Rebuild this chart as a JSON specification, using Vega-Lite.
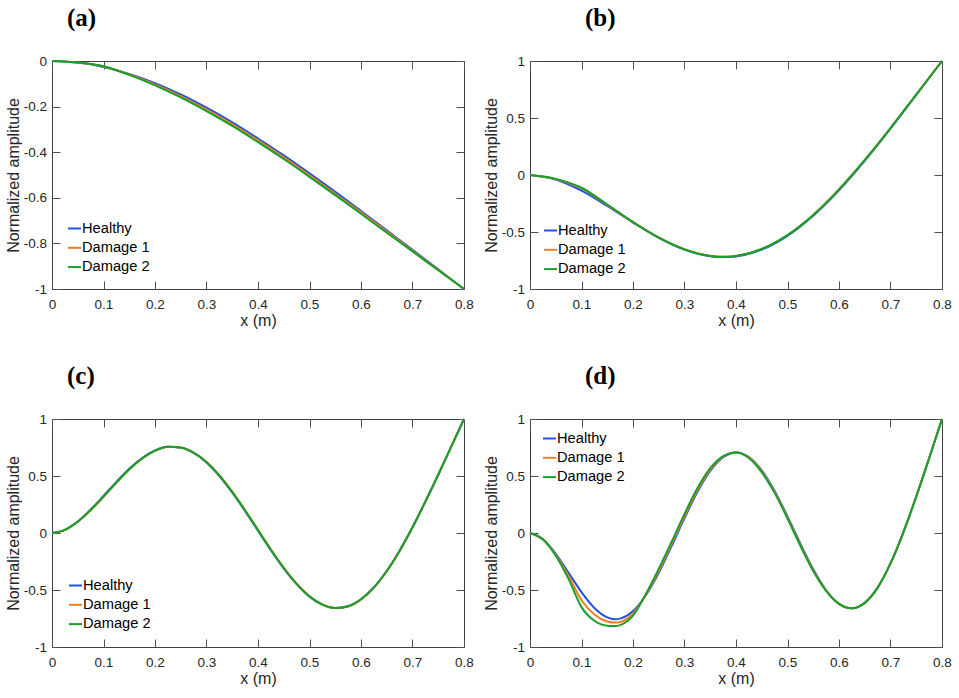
{
  "$schema": "https://vega.github.io/schema/vega-lite/v6.json",
  "background": "white",
  "padding": {"left": 4, "top": 5, "right": 5, "bottom": 5},
  "datasets": {
    "a": [
      {"s":"Healthy","x":0,"y":0},{"s":"Healthy","x":0.05,"y":-0.007},{"s":"Healthy","x":0.1,"y":-0.026},{"s":"Healthy","x":0.15,"y":-0.057},{"s":"Healthy","x":0.2,"y":-0.097},{"s":"Healthy","x":0.25,"y":-0.147},{"s":"Healthy","x":0.3,"y":-0.205},{"s":"Healthy","x":0.35,"y":-0.269},{"s":"Healthy","x":0.4,"y":-0.34},{"s":"Healthy","x":0.45,"y":-0.414},{"s":"Healthy","x":0.5,"y":-0.493},{"s":"Healthy","x":0.55,"y":-0.574},{"s":"Healthy","x":0.6,"y":-0.658},{"s":"Healthy","x":0.65,"y":-0.743},{"s":"Healthy","x":0.7,"y":-0.828},{"s":"Healthy","x":0.75,"y":-0.914},{"s":"Healthy","x":0.8,"y":-1},
      {"s":"Damage 1","x":0,"y":0},{"s":"Damage 1","x":0.05,"y":-0.007},{"s":"Damage 1","x":0.1,"y":-0.024},{"s":"Damage 1","x":0.15,"y":-0.059},{"s":"Damage 1","x":0.2,"y":-0.103},{"s":"Damage 1","x":0.25,"y":-0.154},{"s":"Damage 1","x":0.3,"y":-0.213},{"s":"Damage 1","x":0.35,"y":-0.278},{"s":"Damage 1","x":0.4,"y":-0.348},{"s":"Damage 1","x":0.45,"y":-0.423},{"s":"Damage 1","x":0.5,"y":-0.501},{"s":"Damage 1","x":0.55,"y":-0.582},{"s":"Damage 1","x":0.6,"y":-0.664},{"s":"Damage 1","x":0.65,"y":-0.748},{"s":"Damage 1","x":0.7,"y":-0.832},{"s":"Damage 1","x":0.75,"y":-0.916},{"s":"Damage 1","x":0.8,"y":-1},
      {"s":"Damage 2","x":0,"y":0},{"s":"Damage 2","x":0.05,"y":-0.007},{"s":"Damage 2","x":0.1,"y":-0.023},{"s":"Damage 2","x":0.15,"y":-0.061},{"s":"Damage 2","x":0.2,"y":-0.107},{"s":"Damage 2","x":0.25,"y":-0.16},{"s":"Damage 2","x":0.3,"y":-0.22},{"s":"Damage 2","x":0.35,"y":-0.285},{"s":"Damage 2","x":0.4,"y":-0.356},{"s":"Damage 2","x":0.45,"y":-0.43},{"s":"Damage 2","x":0.5,"y":-0.508},{"s":"Damage 2","x":0.55,"y":-0.588},{"s":"Damage 2","x":0.6,"y":-0.67},{"s":"Damage 2","x":0.65,"y":-0.753},{"s":"Damage 2","x":0.7,"y":-0.835},{"s":"Damage 2","x":0.75,"y":-0.918},{"s":"Damage 2","x":0.8,"y":-1}
    ],
    "b": [
      {"s":"Healthy","x":0,"y":0},{"s":"Healthy","x":0.05,"y":-0.039},{"s":"Healthy","x":0.1,"y":-0.138},{"s":"Healthy","x":0.15,"y":-0.272},{"s":"Healthy","x":0.2,"y":-0.417},{"s":"Healthy","x":0.25,"y":-0.551},{"s":"Healthy","x":0.3,"y":-0.654},{"s":"Healthy","x":0.35,"y":-0.712},{"s":"Healthy","x":0.375,"y":-0.72},{"s":"Healthy","x":0.4,"y":-0.714},{"s":"Healthy","x":0.45,"y":-0.655},{"s":"Healthy","x":0.5,"y":-0.534},{"s":"Healthy","x":0.55,"y":-0.358},{"s":"Healthy","x":0.6,"y":-0.135},{"s":"Healthy","x":0.65,"y":0.124},{"s":"Healthy","x":0.7,"y":0.406},{"s":"Healthy","x":0.75,"y":0.703},{"s":"Healthy","x":0.8,"y":1},
      {"s":"Damage 1","x":0,"y":0},{"s":"Damage 1","x":0.05,"y":-0.036},{"s":"Damage 1","x":0.1,"y":-0.118},{"s":"Damage 1","x":0.15,"y":-0.262},{"s":"Damage 1","x":0.2,"y":-0.412},{"s":"Damage 1","x":0.25,"y":-0.548},{"s":"Damage 1","x":0.3,"y":-0.65},{"s":"Damage 1","x":0.35,"y":-0.708},{"s":"Damage 1","x":0.375,"y":-0.716},{"s":"Damage 1","x":0.4,"y":-0.71},{"s":"Damage 1","x":0.45,"y":-0.648},{"s":"Damage 1","x":0.5,"y":-0.526},{"s":"Damage 1","x":0.55,"y":-0.35},{"s":"Damage 1","x":0.6,"y":-0.127},{"s":"Damage 1","x":0.65,"y":0.131},{"s":"Damage 1","x":0.7,"y":0.411},{"s":"Damage 1","x":0.75,"y":0.705},{"s":"Damage 1","x":0.8,"y":1},
      {"s":"Damage 2","x":0,"y":0},{"s":"Damage 2","x":0.05,"y":-0.034},{"s":"Damage 2","x":0.1,"y":-0.112},{"s":"Damage 2","x":0.15,"y":-0.259},{"s":"Damage 2","x":0.2,"y":-0.412},{"s":"Damage 2","x":0.25,"y":-0.549},{"s":"Damage 2","x":0.3,"y":-0.653},{"s":"Damage 2","x":0.35,"y":-0.711},{"s":"Damage 2","x":0.375,"y":-0.719},{"s":"Damage 2","x":0.4,"y":-0.711},{"s":"Damage 2","x":0.45,"y":-0.649},{"s":"Damage 2","x":0.5,"y":-0.527},{"s":"Damage 2","x":0.55,"y":-0.35},{"s":"Damage 2","x":0.6,"y":-0.126},{"s":"Damage 2","x":0.65,"y":0.132},{"s":"Damage 2","x":0.7,"y":0.412},{"s":"Damage 2","x":0.75,"y":0.706},{"s":"Damage 2","x":0.8,"y":1}
    ],
    "c": [
      {"s":"Healthy","x":0,"y":0},{"s":"Healthy","x":0.025,"y":0.028},{"s":"Healthy","x":0.05,"y":0.101},{"s":"Healthy","x":0.075,"y":0.205},{"s":"Healthy","x":0.1,"y":0.325},{"s":"Healthy","x":0.125,"y":0.449},{"s":"Healthy","x":0.15,"y":0.564},{"s":"Healthy","x":0.175,"y":0.658},{"s":"Healthy","x":0.2,"y":0.724},{"s":"Healthy","x":0.225,"y":0.756},{"s":"Healthy","x":0.25,"y":0.748},{"s":"Healthy","x":0.275,"y":0.702},{"s":"Healthy","x":0.3,"y":0.618},{"s":"Healthy","x":0.325,"y":0.5},{"s":"Healthy","x":0.35,"y":0.355},{"s":"Healthy","x":0.375,"y":0.192},{"s":"Healthy","x":0.4,"y":0.02},{"s":"Healthy","x":0.425,"y":-0.151},{"s":"Healthy","x":0.45,"y":-0.311},{"s":"Healthy","x":0.475,"y":-0.449},{"s":"Healthy","x":0.5,"y":-0.558},{"s":"Healthy","x":0.525,"y":-0.629},{"s":"Healthy","x":0.55,"y":-0.658},{"s":"Healthy","x":0.575,"y":-0.642},{"s":"Healthy","x":0.6,"y":-0.581},{"s":"Healthy","x":0.625,"y":-0.477},{"s":"Healthy","x":0.65,"y":-0.333},{"s":"Healthy","x":0.675,"y":-0.155},{"s":"Healthy","x":0.7,"y":0.05},{"s":"Healthy","x":0.725,"y":0.275},{"s":"Healthy","x":0.75,"y":0.511},{"s":"Healthy","x":0.775,"y":0.755},{"s":"Healthy","x":0.8,"y":1},
      {"s":"Damage 1","x":0,"y":0},{"s":"Damage 1","x":0.025,"y":0.028},{"s":"Damage 1","x":0.05,"y":0.099},{"s":"Damage 1","x":0.075,"y":0.2},{"s":"Damage 1","x":0.1,"y":0.317},{"s":"Damage 1","x":0.125,"y":0.44},{"s":"Damage 1","x":0.15,"y":0.556},{"s":"Damage 1","x":0.175,"y":0.652},{"s":"Damage 1","x":0.2,"y":0.721},{"s":"Damage 1","x":0.225,"y":0.756},{"s":"Damage 1","x":0.25,"y":0.75},{"s":"Damage 1","x":0.275,"y":0.706},{"s":"Damage 1","x":0.3,"y":0.624},{"s":"Damage 1","x":0.325,"y":0.508},{"s":"Damage 1","x":0.35,"y":0.364},{"s":"Damage 1","x":0.375,"y":0.202},{"s":"Damage 1","x":0.4,"y":0.03},{"s":"Damage 1","x":0.425,"y":-0.142},{"s":"Damage 1","x":0.45,"y":-0.303},{"s":"Damage 1","x":0.475,"y":-0.443},{"s":"Damage 1","x":0.5,"y":-0.554},{"s":"Damage 1","x":0.525,"y":-0.627},{"s":"Damage 1","x":0.55,"y":-0.658},{"s":"Damage 1","x":0.575,"y":-0.644},{"s":"Damage 1","x":0.6,"y":-0.584},{"s":"Damage 1","x":0.625,"y":-0.48},{"s":"Damage 1","x":0.65,"y":-0.336},{"s":"Damage 1","x":0.675,"y":-0.157},{"s":"Damage 1","x":0.7,"y":0.049},{"s":"Damage 1","x":0.725,"y":0.275},{"s":"Damage 1","x":0.75,"y":0.511},{"s":"Damage 1","x":0.775,"y":0.755},{"s":"Damage 1","x":0.8,"y":1},
      {"s":"Damage 2","x":0,"y":0},{"s":"Damage 2","x":0.025,"y":0.028},{"s":"Damage 2","x":0.05,"y":0.1},{"s":"Damage 2","x":0.075,"y":0.202},{"s":"Damage 2","x":0.1,"y":0.32},{"s":"Damage 2","x":0.125,"y":0.443},{"s":"Damage 2","x":0.15,"y":0.559},{"s":"Damage 2","x":0.175,"y":0.654},{"s":"Damage 2","x":0.2,"y":0.722},{"s":"Damage 2","x":0.225,"y":0.756},{"s":"Damage 2","x":0.25,"y":0.749},{"s":"Damage 2","x":0.275,"y":0.704},{"s":"Damage 2","x":0.3,"y":0.621},{"s":"Damage 2","x":0.325,"y":0.504},{"s":"Damage 2","x":0.35,"y":0.359},{"s":"Damage 2","x":0.375,"y":0.197},{"s":"Damage 2","x":0.4,"y":0.025},{"s":"Damage 2","x":0.425,"y":-0.147},{"s":"Damage 2","x":0.45,"y":-0.307},{"s":"Damage 2","x":0.475,"y":-0.446},{"s":"Damage 2","x":0.5,"y":-0.556},{"s":"Damage 2","x":0.525,"y":-0.628},{"s":"Damage 2","x":0.55,"y":-0.658},{"s":"Damage 2","x":0.575,"y":-0.642},{"s":"Damage 2","x":0.6,"y":-0.581},{"s":"Damage 2","x":0.625,"y":-0.477},{"s":"Damage 2","x":0.65,"y":-0.333},{"s":"Damage 2","x":0.675,"y":-0.155},{"s":"Damage 2","x":0.7,"y":0.05},{"s":"Damage 2","x":0.725,"y":0.275},{"s":"Damage 2","x":0.75,"y":0.511},{"s":"Damage 2","x":0.775,"y":0.755},{"s":"Damage 2","x":0.8,"y":1}
    ],
    "d": [
      {"s":"Healthy","x":0,"y":0},{"s":"Healthy","x":0.025,"y":-0.052},{"s":"Healthy","x":0.05,"y":-0.182},{"s":"Healthy","x":0.075,"y":-0.35},{"s":"Healthy","x":0.1,"y":-0.519},{"s":"Healthy","x":0.125,"y":-0.658},{"s":"Healthy","x":0.15,"y":-0.74},{"s":"Healthy","x":0.165,"y":-0.756},{"s":"Healthy","x":0.175,"y":-0.751},{"s":"Healthy","x":0.2,"y":-0.685},{"s":"Healthy","x":0.225,"y":-0.546},{"s":"Healthy","x":0.25,"y":-0.349},{"s":"Healthy","x":0.275,"y":-0.115},{"s":"Healthy","x":0.3,"y":0.13},{"s":"Healthy","x":0.325,"y":0.359},{"s":"Healthy","x":0.35,"y":0.544},{"s":"Healthy","x":0.375,"y":0.664},{"s":"Healthy","x":0.4,"y":0.707},{"s":"Healthy","x":0.425,"y":0.667},{"s":"Healthy","x":0.45,"y":0.55},{"s":"Healthy","x":0.475,"y":0.369},{"s":"Healthy","x":0.5,"y":0.146},{"s":"Healthy","x":0.525,"y":-0.093},{"s":"Healthy","x":0.55,"y":-0.318},{"s":"Healthy","x":0.575,"y":-0.502},{"s":"Healthy","x":0.6,"y":-0.622},{"s":"Healthy","x":0.625,"y":-0.661},{"s":"Healthy","x":0.65,"y":-0.613},{"s":"Healthy","x":0.675,"y":-0.479},{"s":"Healthy","x":0.7,"y":-0.267},{"s":"Healthy","x":0.725,"y":0.006},{"s":"Healthy","x":0.75,"y":0.32},{"s":"Healthy","x":0.775,"y":0.656},{"s":"Healthy","x":0.8,"y":1},
      {"s":"Damage 1","x":0,"y":0},{"s":"Damage 1","x":0.025,"y":-0.055},{"s":"Damage 1","x":0.05,"y":-0.191},{"s":"Damage 1","x":0.075,"y":-0.378},{"s":"Damage 1","x":0.1,"y":-0.59},{"s":"Damage 1","x":0.125,"y":-0.715},{"s":"Damage 1","x":0.15,"y":-0.776},{"s":"Damage 1","x":0.165,"y":-0.786},{"s":"Damage 1","x":0.175,"y":-0.781},{"s":"Damage 1","x":0.2,"y":-0.706},{"s":"Damage 1","x":0.225,"y":-0.54},{"s":"Damage 1","x":0.25,"y":-0.332},{"s":"Damage 1","x":0.275,"y":-0.096},{"s":"Damage 1","x":0.3,"y":0.149},{"s":"Damage 1","x":0.325,"y":0.375},{"s":"Damage 1","x":0.35,"y":0.556},{"s":"Damage 1","x":0.375,"y":0.669},{"s":"Damage 1","x":0.4,"y":0.707},{"s":"Damage 1","x":0.425,"y":0.663},{"s":"Damage 1","x":0.45,"y":0.541},{"s":"Damage 1","x":0.475,"y":0.36},{"s":"Damage 1","x":0.5,"y":0.136},{"s":"Damage 1","x":0.525,"y":-0.102},{"s":"Damage 1","x":0.55,"y":-0.326},{"s":"Damage 1","x":0.575,"y":-0.505},{"s":"Damage 1","x":0.6,"y":-0.622},{"s":"Damage 1","x":0.625,"y":-0.661},{"s":"Damage 1","x":0.65,"y":-0.613},{"s":"Damage 1","x":0.675,"y":-0.479},{"s":"Damage 1","x":0.7,"y":-0.267},{"s":"Damage 1","x":0.725,"y":0.006},{"s":"Damage 1","x":0.75,"y":0.32},{"s":"Damage 1","x":0.775,"y":0.656},{"s":"Damage 1","x":0.8,"y":1},
      {"s":"Damage 2","x":0,"y":0},{"s":"Damage 2","x":0.025,"y":-0.058},{"s":"Damage 2","x":0.05,"y":-0.2},{"s":"Damage 2","x":0.075,"y":-0.405},{"s":"Damage 2","x":0.1,"y":-0.65},{"s":"Damage 2","x":0.125,"y":-0.77},{"s":"Damage 2","x":0.15,"y":-0.813},{"s":"Damage 2","x":0.165,"y":-0.816},{"s":"Damage 2","x":0.175,"y":-0.808},{"s":"Damage 2","x":0.2,"y":-0.725},{"s":"Damage 2","x":0.225,"y":-0.535},{"s":"Damage 2","x":0.25,"y":-0.315},{"s":"Damage 2","x":0.275,"y":-0.077},{"s":"Damage 2","x":0.3,"y":0.168},{"s":"Damage 2","x":0.325,"y":0.392},{"s":"Damage 2","x":0.35,"y":0.568},{"s":"Damage 2","x":0.375,"y":0.674},{"s":"Damage 2","x":0.4,"y":0.707},{"s":"Damage 2","x":0.425,"y":0.658},{"s":"Damage 2","x":0.45,"y":0.532},{"s":"Damage 2","x":0.475,"y":0.352},{"s":"Damage 2","x":0.5,"y":0.127},{"s":"Damage 2","x":0.525,"y":-0.112},{"s":"Damage 2","x":0.55,"y":-0.334},{"s":"Damage 2","x":0.575,"y":-0.508},{"s":"Damage 2","x":0.6,"y":-0.622},{"s":"Damage 2","x":0.625,"y":-0.661},{"s":"Damage 2","x":0.65,"y":-0.613},{"s":"Damage 2","x":0.675,"y":-0.479},{"s":"Damage 2","x":0.7,"y":-0.267},{"s":"Damage 2","x":0.725,"y":0.006},{"s":"Damage 2","x":0.75,"y":0.32},{"s":"Damage 2","x":0.775,"y":0.656},{"s":"Damage 2","x":0.8,"y":1}
    ]
  },
  "columns": 2,
  "spacing": {"row": 34, "column": 8},
  "concat": [
    {
      "title": {"text": "(a)", "dx": 15},
      "width": 412, "height": 228,
      "data": {"name": "a"},
      "mark": {"type": "line", "strokeWidth": 2, "interpolate": "monotone"},
      "encoding": {
        "x": {"field": "x", "type": "quantitative", "scale": {"domain": [0, 0.8], "nice": false, "zero": false}, "axis": {"values": [0, 0.1, 0.2, 0.3, 0.4, 0.5, 0.6, 0.7, 0.8], "format": "~g", "title": "x (m)"}},
        "y": {"field": "y", "type": "quantitative", "scale": {"domain": [-1, 0], "nice": false, "zero": false}, "axis": {"values": [-1, -0.8, -0.6, -0.4, -0.2, 0], "format": "~g", "title": "Normalized amplitude"}},
        "color": {"field": "s", "type": "nominal", "title": null, "scale": {"domain": ["Healthy", "Damage 1", "Damage 2"], "range": ["#2352dc", "#f07d22", "#16a02c"]}, "legend": {"orient": "bottom-left", "offset": 15}}
      }
    },
    {
      "title": {"text": "(b)", "dx": 55},
      "width": 412, "height": 228,
      "data": {"name": "b"},
      "mark": {"type": "line", "strokeWidth": 2, "interpolate": "monotone"},
      "encoding": {
        "x": {"field": "x", "type": "quantitative", "scale": {"domain": [0, 0.8], "nice": false, "zero": false}, "axis": {"values": [0, 0.1, 0.2, 0.3, 0.4, 0.5, 0.6, 0.7, 0.8], "format": "~g", "title": "x (m)"}},
        "y": {"field": "y", "type": "quantitative", "scale": {"domain": [-1, 1], "nice": false, "zero": false}, "axis": {"values": [-1, -0.5, 0, 0.5, 1], "format": "~g", "title": "Normalized amplitude"}},
        "color": {"field": "s", "type": "nominal", "title": null, "scale": {"domain": ["Healthy", "Damage 1", "Damage 2"], "range": ["#2352dc", "#f07d22", "#16a02c"]}, "legend": {"orient": "bottom-left", "offset": 13}}
      }
    },
    {
      "title": {"text": "(c)", "dx": 15},
      "width": 412, "height": 228,
      "data": {"name": "c"},
      "mark": {"type": "line", "strokeWidth": 2, "interpolate": "monotone"},
      "encoding": {
        "x": {"field": "x", "type": "quantitative", "scale": {"domain": [0, 0.8], "nice": false, "zero": false}, "axis": {"values": [0, 0.1, 0.2, 0.3, 0.4, 0.5, 0.6, 0.7, 0.8], "format": "~g", "title": "x (m)"}},
        "y": {"field": "y", "type": "quantitative", "scale": {"domain": [-1, 1], "nice": false, "zero": false}, "axis": {"values": [-1, -0.5, 0, 0.5, 1], "format": "~g", "title": "Normalized amplitude"}},
        "color": {"field": "s", "type": "nominal", "title": null, "scale": {"domain": ["Healthy", "Damage 1", "Damage 2"], "range": ["#2352dc", "#f07d22", "#16a02c"]}, "legend": {"orient": "bottom-left", "offset": 16}}
      }
    },
    {
      "title": {"text": "(d)", "dx": 55},
      "width": 412, "height": 228,
      "data": {"name": "d"},
      "mark": {"type": "line", "strokeWidth": 2, "interpolate": "monotone"},
      "encoding": {
        "x": {"field": "x", "type": "quantitative", "scale": {"domain": [0, 0.8], "nice": false, "zero": false}, "axis": {"values": [0, 0.1, 0.2, 0.3, 0.4, 0.5, 0.6, 0.7, 0.8], "format": "~g", "title": "x (m)"}},
        "y": {"field": "y", "type": "quantitative", "scale": {"domain": [-1, 1], "nice": false, "zero": false}, "axis": {"values": [-1, -0.5, 0, 0.5, 1], "format": "~g", "title": "Normalized amplitude"}},
        "color": {"field": "s", "type": "nominal", "title": null, "scale": {"domain": ["Healthy", "Damage 1", "Damage 2"], "range": ["#2352dc", "#f07d22", "#16a02c"]}, "legend": {"orient": "top-left", "offset": 12}}
      }
    }
  ],
  "resolve": {"scale": {"color": "independent"}, "legend": {"color": "independent"}},
  "config": {
    "font": "Liberation Sans",
    "view": {"stroke": "#404040", "strokeWidth": 1},
    "locale": {"number": {"decimal": ".", "thousands": ",", "grouping": [3], "currency": ["$", ""], "minus": "-"}},
    "axis": {
      "labelFont": "Liberation Sans", "labelFontSize": 13.5, "labelColor": "#262626",
      "labelFlush": false, "labelOverlap": false,
      "titleFont": "Liberation Sans", "titleFontSize": 16, "titleFontWeight": "normal", "titleColor": "#262626",
      "domain": false, "ticks": false, "tickSize": 0,
      "grid": true, "gridColor": "#505050", "gridWidth": 1, "gridOpacity": 1
    },
    "axisX": {"gridDash": [8, 212, 8, 1000]},
    "axisY": {"gridDash": [8, 396, 8, 1000]},
    "axisBottom": {"labelPadding": 8, "titlePadding": 2},
    "axisLeft": {"labelPadding": 5.5, "titlePadding": 2},
    "legend": {
      "symbolType": "stroke", "symbolSize": 169, "symbolStrokeWidth": 2,
      "labelFont": "Liberation Sans", "labelFontSize": 14.67, "labelColor": "#000000",
      "labelOffset": 0, "rowPadding": 3.3, "padding": 0
    },
    "title": {"font": "Liberation Serif", "fontSize": 25, "fontWeight": "bold", "anchor": "start", "frame": "group", "baseline": "alphabetic", "offset": 23, "color": "#000000"}
  }
}
